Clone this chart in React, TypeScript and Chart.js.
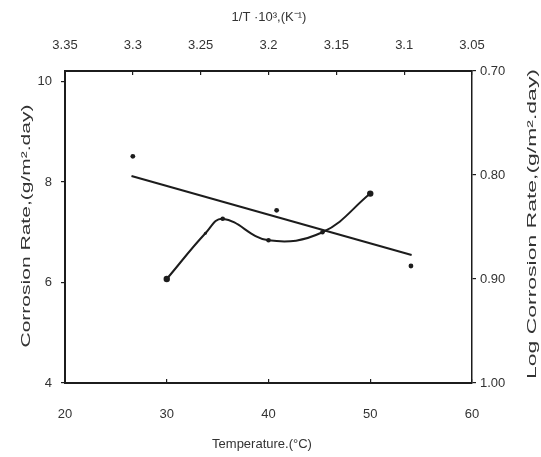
import React, { useEffect, useRef } from "react";
import { Chart, registerables } from "chart.js";

Chart.register(...registerables);

// ---- data ----
const tempTicks = [20, 30, 40, 50, 60];
const invTTicks = [3.35, 3.3, 3.25, 3.2, 3.15, 3.1, 3.05];
const rateTicks = [4, 6, 8, 10];
const logTicks = [0.7, 0.8, 0.9, 1.0];

// Corrosion rate vs temperature (curve)
const temperatures = [30, 33.8, 35.5, 40, 45.3, 50];
const corrosionRates = [6.07, 6.98, 7.27, 6.84, 7.0, 7.77];

// Log corrosion rate vs 1/T (fitted straight line)
const fitInvT = [3.301, 3.0945];
const fitLogRate = [0.801, 0.877];

// Log corrosion rate vs 1/T (observed points)
const obsInvT = [3.3, 3.194, 3.095];
const obsLogRate = [0.782, 0.834, 0.8875];

const topTitle = "1/T ·10³,(K⁻¹)";
const bottomTitle = "Temperature.(°C)";
const leftTitle = "Corrosion Rate,(g/m².day)";
const rightTitle = "Log Corrosion Rate,(g/m².day)";

const INK = "#1c1c1c";
const TEXT = "#333333";
const FONT_FAMILY = '"Liberation Sans", Arial, sans-serif';

function drawStretched(ctx: CanvasRenderingContext2D, text: string, cx: number, cy: number, length: number) {
  ctx.save();
  ctx.translate(cx, cy);
  ctx.rotate(-Math.PI / 2);
  const w = ctx.measureText(text).width;
  ctx.scale(length / w, 1);
  ctx.fillText(text, 0, 0);
  ctx.restore();
}

const titlePlugin = {
  id: "axisTitles",
  afterDraw(chart: any) {
    const ctx: CanvasRenderingContext2D = chart.ctx;
    ctx.save();
    ctx.fillStyle = TEXT;
    ctx.font = `13px ${FONT_FAMILY}`;
    ctx.textAlign = "center";
    ctx.textBaseline = "middle";
    ctx.fillText(topTitle, 269, 17);
    ctx.fillText(bottomTitle, 262, 444);
    drawStretched(ctx, leftTitle, 26, 226, 243);
    drawStretched(ctx, rightTitle, 532, 224, 310);
    ctx.restore();
  },
};

const font = { family: FONT_FAMILY, size: 13 };

export default function App() {
  const ref = useRef<HTMLCanvasElement | null>(null);

  useEffect(() => {
    if (!ref.current) return;
    const chart = new Chart(ref.current, {
      type: "line",
      data: {
        datasets: [
          {
            label: "Corrosion rate",
            data: temperatures.map((t, i) => ({ x: t, y: corrosionRates[i] })),
            xAxisID: "x",
            yAxisID: "y",
            borderColor: INK,
            backgroundColor: INK,
            borderWidth: 2,
            tension: 0.4,
            pointRadius: [3.2, 1.5, 2.3, 2.3, 2.3, 3.2],
            pointBorderWidth: 0,
            pointBackgroundColor: INK,
          },
          {
            label: "Fit",
            data: fitInvT.map((v, i) => ({ x: v, y: fitLogRate[i] })),
            xAxisID: "x2",
            yAxisID: "y2",
            borderColor: INK,
            borderWidth: 2,
            tension: 0,
            pointRadius: 0,
          },
          {
            label: "Observed",
            data: obsInvT.map((v, i) => ({ x: v, y: obsLogRate[i] })),
            xAxisID: "x2",
            yAxisID: "y2",
            showLine: false,
            pointRadius: 2.4,
            pointBorderWidth: 0,
            pointBackgroundColor: INK,
            borderColor: INK,
          },
        ],
      } as any,
      options: {
        responsive: false,
        animation: false,
        layout: { padding: 0 },
        plugins: {
          legend: { display: false },
          tooltip: { enabled: false },
        },
        scales: {
          x: {
            type: "linear",
            position: "bottom",
            min: 20,
            max: 60,
            afterBuildTicks: (s: any) => {
              s.ticks = tempTicks.map((v) => ({ value: v }));
            },
            afterFit: (s: any) => {
              s.height = 74;
            },
            grid: { display: true, drawOnChartArea: false, tickLength: -4, color: INK, lineWidth: 1.2 },
            border: { display: true, color: INK, width: 2 },
            ticks: { padding: 28, color: TEXT, font, callback: (v: any) => String(v) },
          },
          x2: {
            type: "linear",
            position: "top",
            min: 3.05,
            max: 3.35,
            reverse: true,
            afterBuildTicks: (s: any) => {
              s.ticks = invTTicks.map((v) => ({ value: v }));
            },
            afterFit: (s: any) => {
              s.height = 71;
            },
            grid: { display: true, drawOnChartArea: false, tickLength: -4, color: INK, lineWidth: 1.2 },
            border: { display: true, color: INK, width: 2 },
            ticks: { padding: 22, color: TEXT, font, callback: (v: any) => String(Number(Number(v).toFixed(2))) },
          },
          y: {
            type: "linear",
            position: "left",
            min: 4,
            max: 10.21,
            afterBuildTicks: (s: any) => {
              s.ticks = rateTicks.map((v) => ({ value: v }));
            },
            afterFit: (s: any) => {
              s.width = 65;
            },
            grid: { display: true, drawOnChartArea: false, tickLength: 4, color: INK, lineWidth: 1.2 },
            border: { display: true, color: INK, width: 2 },
            ticks: { padding: 9, color: TEXT, font, callback: (v: any) => String(v) },
          },
          y2: {
            type: "linear",
            position: "right",
            min: 0.7,
            max: 1.0,
            reverse: true,
            afterBuildTicks: (s: any) => {
              s.ticks = logTicks.map((v) => ({ value: v }));
            },
            afterFit: (s: any) => {
              s.width = 69;
            },
            grid: { display: true, drawOnChartArea: false, tickLength: 4, color: INK, lineWidth: 1.2 },
            border: { display: true, color: INK, width: 1.5 },
            ticks: { padding: 4, color: TEXT, font, callback: (v: any) => Number(v).toFixed(2) },
          },
        },
      } as any,
      plugins: [titlePlugin],
    });
    return () => chart.destroy();
  }, []);

  return (
    <div style={{ position: "fixed", left: 0, top: 0, width: 541, height: 457, background: "#fff" }}>
      <canvas ref={ref} width={541} height={457} style={{ display: "block" }} />
    </div>
  );
}
